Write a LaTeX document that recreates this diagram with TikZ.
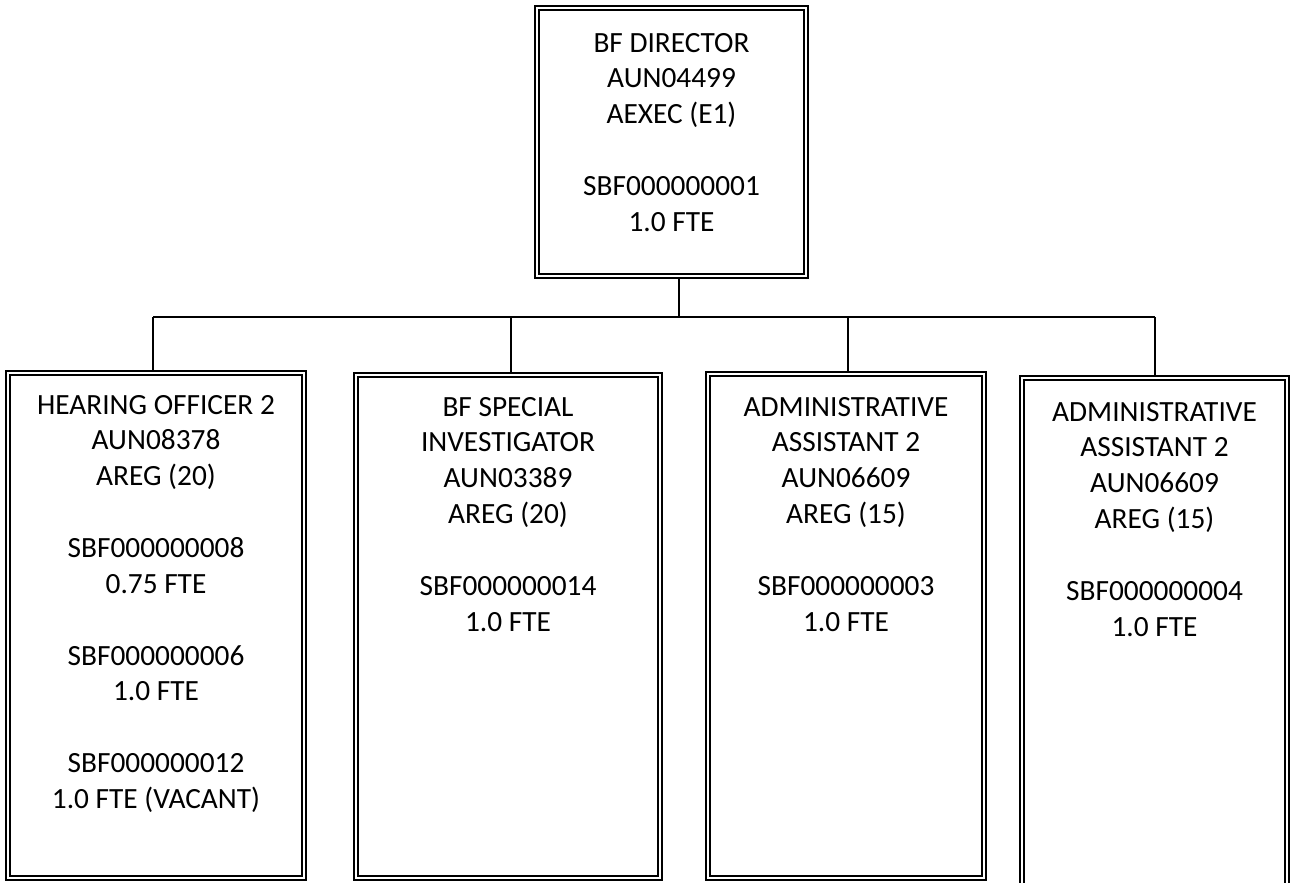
\documentclass[tikz,border=0pt]{standalone}
\usepackage{fontspec}
\setmainfont{Carlito}
\usetikzlibrary{fit}
\begin{document}
\begin{tikzpicture}[x=0.75pt,y=-0.75pt,
  orgbox/.style={draw, line width=1.7pt, rectangle, inner sep=0pt, outer sep=0pt},
  innerline/.style={line width=1pt},
  lbl/.style={font=\fontsize{22}{26.9}\selectfont, align=center, anchor=north, inner sep=0pt, outer sep=0pt},
  link/.style={line width=1.1pt}]
\useasboundingbox (0,0) rectangle (1291,882);

% boxes
\node[orgbox, fit={(535,6) (808,278)}] (b0) {};
\node[orgbox, fit={(6,371) (306,880)}] (b1) {};
\node[orgbox, fit={(354,373) (662,880)}] (b2) {};
\node[orgbox, fit={(706,372) (986,880)}] (b3) {};
\node[orgbox, fit={(1020,376) (1289,888)}] (b4) {};
\foreach \n in {b0,b1,b2,b3,b4}
  \draw[innerline] ([shift={(4,4)}]\n.north west) rectangle ([shift={(-4,-4)}]\n.south east);

% texts
\node[lbl] (t0) at ([yshift=-20.25pt]b0.north) {BF DIRECTOR\\AUN04499\\AEXEC (E1)\\[26.9pt]SBF000000001\\1.0 FTE};
\node[lbl] (t1) at ([yshift=-18pt]b1.north) {HEARING OFFICER 2\\AUN08378\\AREG (20)\\[26.9pt]SBF000000008\\0.75 FTE\\[26.9pt]SBF000000006\\1.0 FTE\\[26.9pt]SBF000000012\\1.0 FTE (VACANT)};
\node[lbl] (t2) at ([yshift=-18pt]b2.north) {BF SPECIAL\\INVESTIGATOR\\AUN03389\\AREG (20)\\[26.9pt]SBF000000014\\1.0 FTE};
\node[lbl] (t3) at ([yshift=-18.75pt]b3.north) {ADMINISTRATIVE\\ASSISTANT 2\\AUN06609\\AREG (15)\\[26.9pt]SBF000000003\\1.0 FTE};
\node[lbl] (t4) at ([yshift=-19.5pt]b4.north) {ADMINISTRATIVE\\ASSISTANT 2\\AUN06609\\AREG (15)\\[26.9pt]SBF000000004\\1.0 FTE};

% connectors
\coordinate (j0) at (679,317);
\coordinate (j1) at (153,317);
\coordinate (j2) at (511,317);
\coordinate (j3) at (848,317);
\coordinate (j4) at (1155,317);
\draw[link] (b0.south -| j0) -- (j0);
\draw[link] (j1) -- (j4);
\draw[link] (j1) -- (j1 |- b1.north);
\draw[link] (j2) -- (j2 |- b2.north);
\draw[link] (j3) -- (j3 |- b3.north);
\draw[link] (j4) -- (j4 |- b4.north);
\end{tikzpicture}
\end{document}
